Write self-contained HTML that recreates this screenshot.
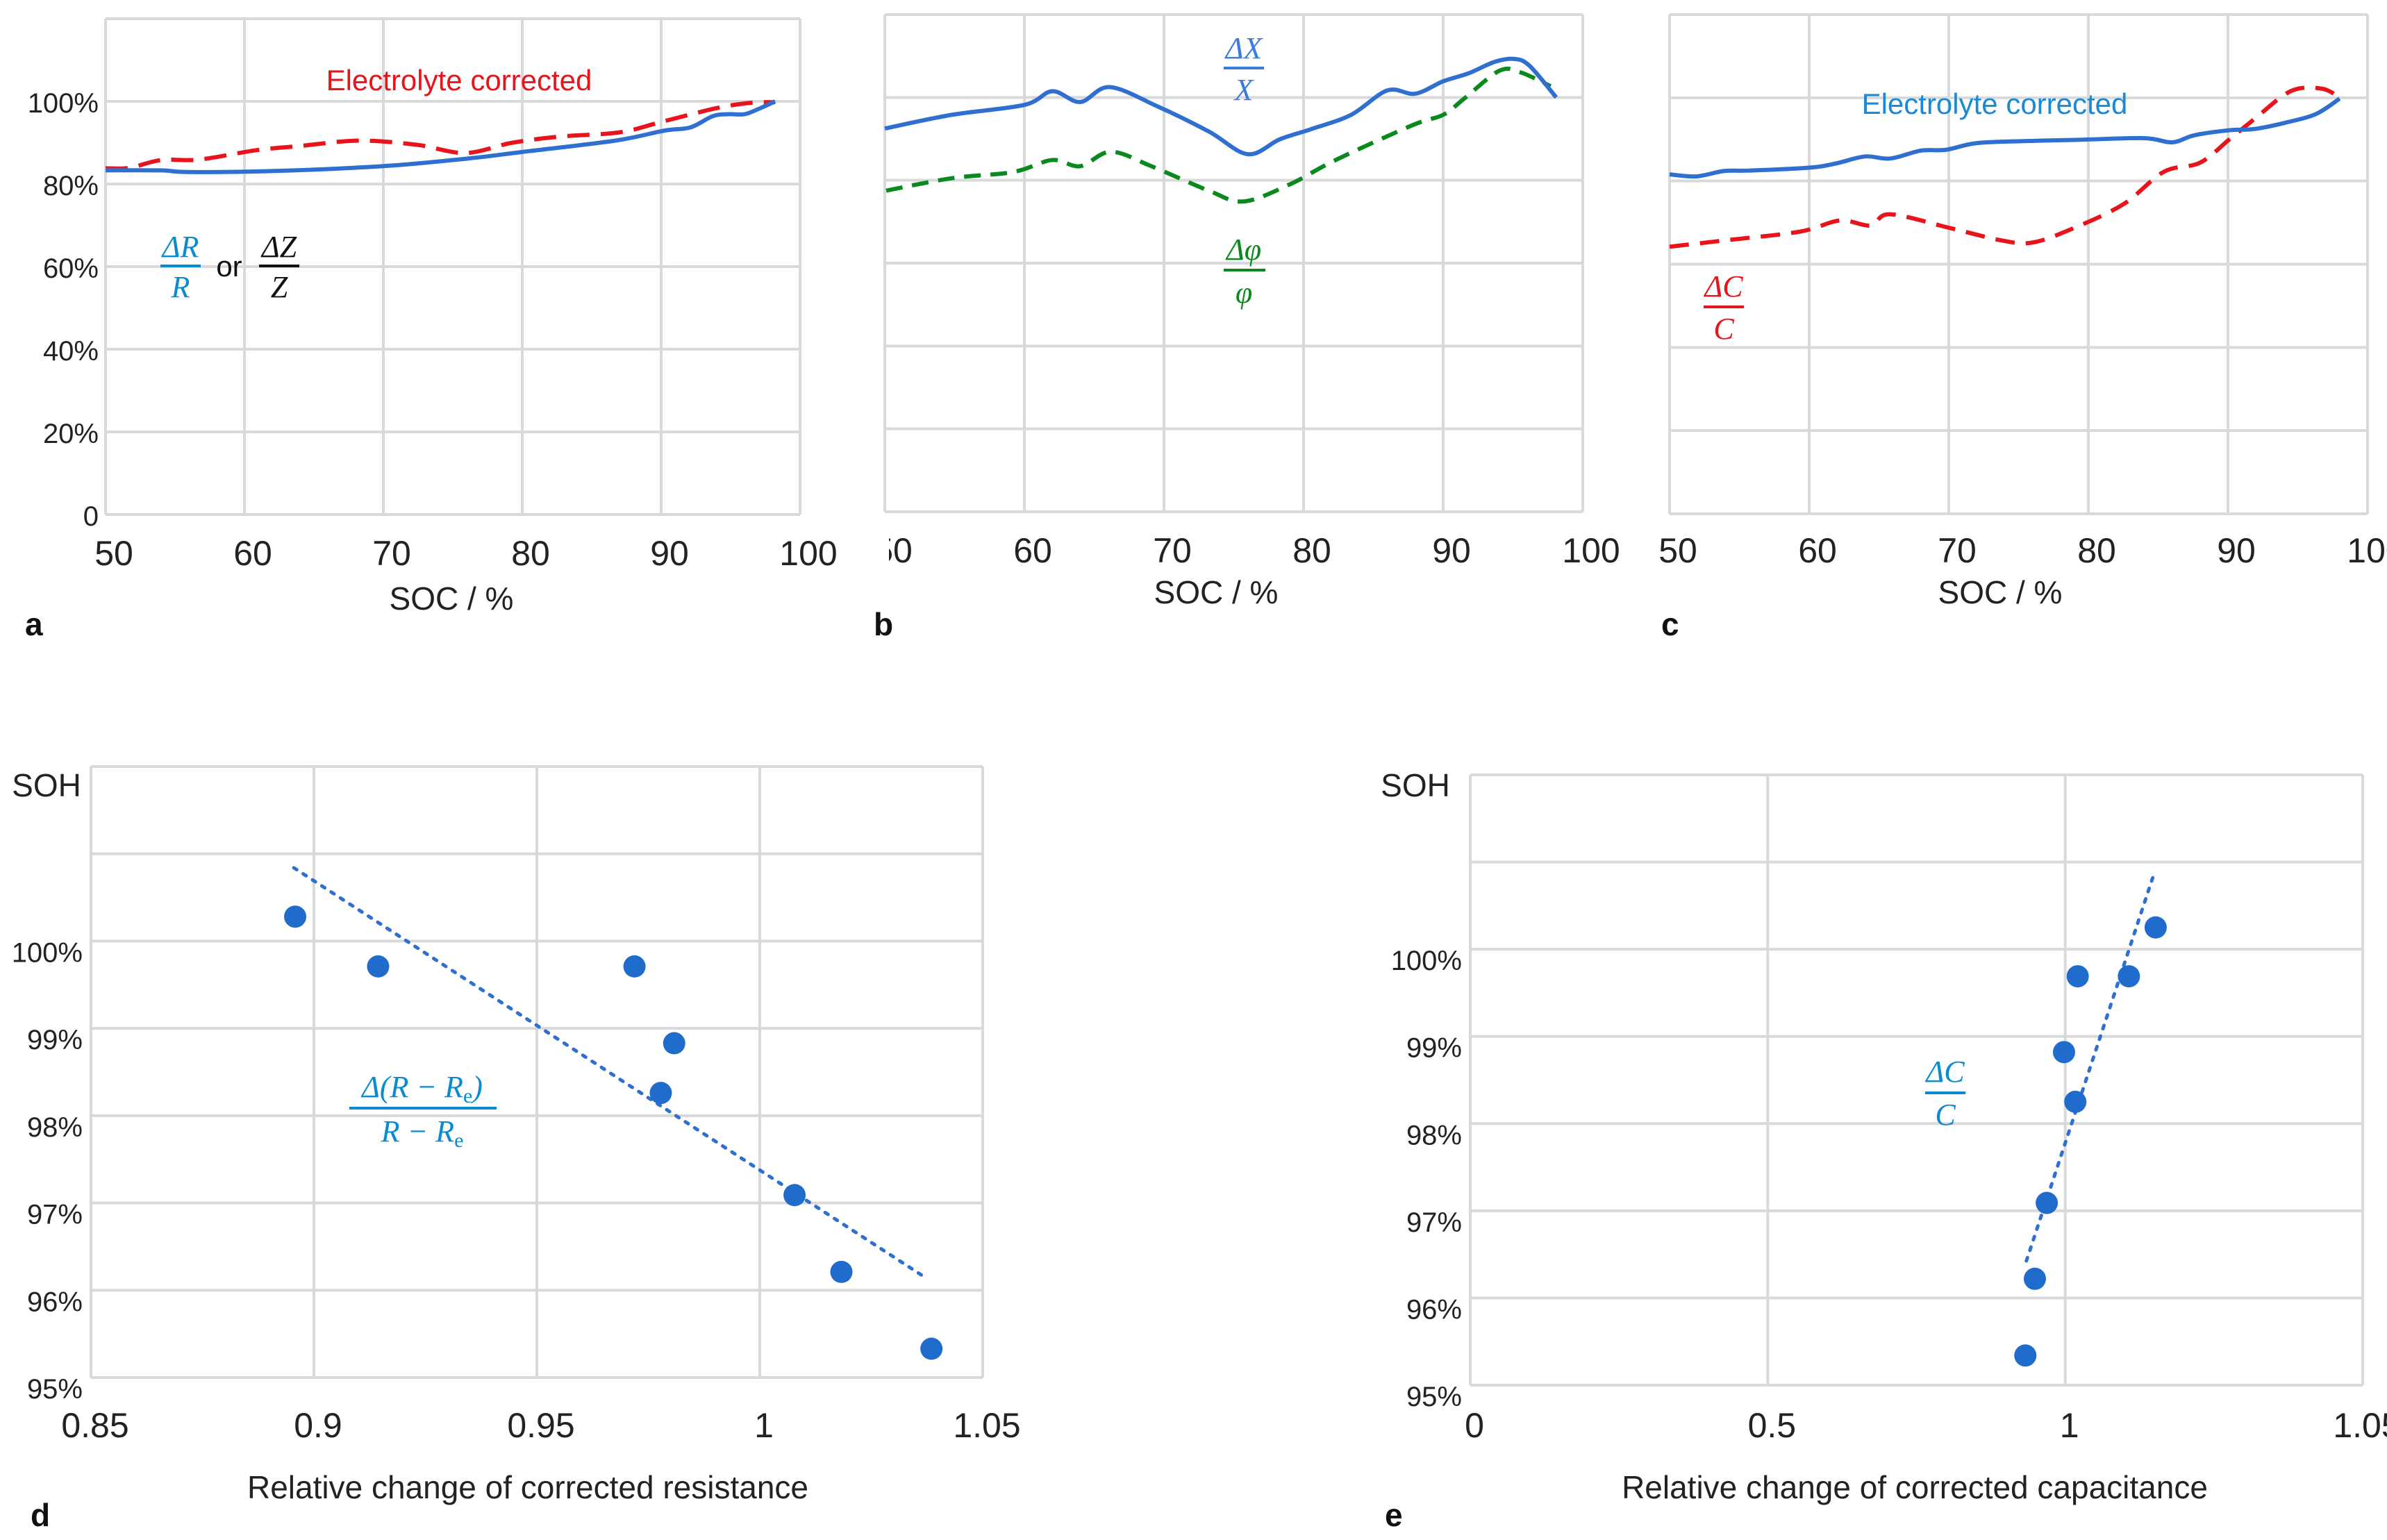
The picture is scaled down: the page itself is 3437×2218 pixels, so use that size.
<!DOCTYPE html>
<html><head><meta charset="utf-8"><style>
html,body{margin:0;padding:0;background:#fff;}
svg{display:block;}
text{font-family:"Liberation Sans",sans-serif;}
.tk{font-size:50px;fill:#222;}
.ytk{font-size:40px;fill:#222;}
.ttl{font-size:46px;fill:#222;}
.pl{font-size:46px;font-weight:bold;fill:#111;}
.mth{font-family:"Liberation Serif",serif;font-style:italic;font-size:44px;}
</style></head><body>
<svg id="fig" width="3437" height="2218" viewBox="0 0 3437 2218" xmlns="http://www.w3.org/2000/svg">
<g id="gA"></g>
<g id="gB"></g>
<g id="gC"></g>
<g id="gD"></g>
<g id="gE"></g>
</svg>
<script>
// ---- Panel a data ----
const aBlueX=[50,54,55.9,61.7,69.9,75.9,80.1,86.7,90.2,92.1,93.7,94.8,96,97.1,98.2];
const aBlueY=[83.3,83.3,82.9,83.1,84.3,86.1,87.8,90.5,92.9,93.7,96.4,96.9,96.9,98.3,100];
const aRedX=[50,51.7,54,56.7,60.9,64,68.2,72.4,75.9,79.3,82.8,87,90.1,93.9,96.3,98.2];
const aRedY=[83.8,83.9,85.8,85.9,88.2,89.2,90.5,89.5,87.5,90,91.5,92.5,95.1,98.3,99.6,99.8];
// ---- Panel b data ----
const bBlueX=[50,54.8,60,62,64,66.1,69.5,73.2,76,78.3,80.5,83.4,86,88,90,91.8,93.7,95.1,96.2,98.1];
const bBlueY=[92.5,95.8,98.2,101.5,98.9,102.5,97.9,91.8,86.3,89.9,92.3,95.8,101.7,100.9,103.9,105.8,108.6,109.3,107.6,100];
const bGreenX=[50.1,54.8,59.2,62,64,66.2,69.1,73.2,75.7,79,82.3,87.8,90,91.5,94,95.5,97.7];
const bGreenY=[77.5,80.5,82,84.9,83.4,86.9,83.4,77.5,74.9,79,84.9,93.3,95.8,99.7,106.4,106.1,102.7];
// ---- Panel c data ----
const cBlueX=[50,51.9,53.9,55.7,60,61.9,64,65.8,68,69.8,72,75.6,79.3,84,86,87.6,90.1,91.9,94.1,96.3,98];
const cBlueY=[81.6,81.1,82.4,82.5,83.2,84.2,85.9,85.4,87.3,87.5,89.1,89.6,89.9,90.3,89.3,91,92.2,92.5,94,96.1,99.8];
const cRedX=[50,53.9,59.3,62.2,64.4,65.8,70.2,73.8,76,78.9,82.5,85.4,88,90.1,91.9,94.5,96.7,98];
const cRedY=[64.2,65.7,67.8,70.5,69.3,72,68.6,65.7,65.2,68.6,74.4,82.2,84.4,90,94.9,101.6,102.2,100.1];
const socTicks=[50,60,70,80,90,100];
const pctTicks=[0,20,40,60,80,100];
const pctLabels=["0","20%","40%","60%","80%","100%"];
// ---- Panel d data ----
const dX=[0.8958,0.9144,0.9719,0.9808,0.9778,1.0078,1.0183,1.0385];
const dY=[100.28,99.71,99.71,98.83,98.26,97.09,96.21,95.33];
const dTrendX=[0.8955,1.037];
const dTrendY=[100.84,96.15];
const dXTicks=[0.85,0.9,0.95,1,1.05];
const dXLabels=["0.85","0.9","0.95","1","1.05"];
// ---- Panel e data (x axis positions on linear 0..1.5 scale, labels as printed) ----
const eX=[1.152,1.021,1.107,0.998,1.017,0.969,0.949,0.933];
const eY=[100.25,99.69,99.69,98.82,98.25,97.09,96.22,95.34];
const eTrendX=[1.147,0.934];
const eTrendY=[100.82,96.41];
const eXTicks=[0,0.5,1,1.5];
const eXLabels=["0","0.5","1","1.05"];
const sohTicks=[95,96,97,98,99,100,101,102];
const sohLabels=["95%","96%","97%","98%","99%","100%","",""];

const NS="http://www.w3.org/2000/svg";
function mk(parent,tag,attrs,txt){const e=document.createElementNS(NS,tag);for(const k in attrs)e.setAttribute(k,attrs[k]);if(txt!==undefined)e.textContent=txt;parent.appendChild(e);return e;}
function lin(d0,d1,r0,r1){return v=>r0+(v-d0)/(d1-d0)*(r1-r0);}
function smooth(pts){let d="M"+pts[0][0]+","+pts[0][1];for(let i=0;i<pts.length-1;i++){const p0=pts[i-1]||pts[i],p1=pts[i],p2=pts[i+1],p3=pts[i+2]||p2;const c1x=p1[0]+(p2[0]-p0[0])/6,c1y=p1[1]+(p2[1]-p0[1])/6,c2x=p2[0]-(p3[0]-p1[0])/6,c2y=p2[1]-(p3[1]-p1[1])/6;d+=" C"+c1x+","+c1y+" "+c2x+","+c2y+" "+p2[0]+","+p2[1];}return d;}

function linePanel(g,L,R,T,B,opts){
  const x=lin(50,100,L,R), y=lin(0,120,B,T);
  for(const t of socTicks){const l=mk(g,"line",{x1:x(t),x2:x(t),y1:T,y2:B,stroke:"#d9d9d9","stroke-width":4});
    
    }
  for(const t of [0,20,40,60,80,100,120]){const l=mk(g,"line",{x1:L,x2:R,y1:y(t),y2:y(t),stroke:"#d9d9d9","stroke-width":4});
    
    }
  if(opts.ylabels){pctTicks.forEach((t,i)=>{const e=mk(g,"text",{x:L-10,y:y(t)+16,"text-anchor":"end",class:"ytk"},pctLabels[i]);
    
    });}
  socTicks.forEach(t=>{const e=mk(g,"text",{x:x(t)+12,y:opts.tickY,"text-anchor":"middle",class:"tk"},String(t));
    
    
    if(opts.clipFirst&&t===50)e.setAttribute("clip-path","url(#clipB)");});
  opts.series.forEach(s=>{const pts=s.X.map((v,i)=>[x(v),y(s.Y[i])]);const p=mk(g,"path",{d:smooth(pts),fill:"none",stroke:s.color,"stroke-width":6,"stroke-dasharray":s.dash||"none","stroke-linecap":"butt"});
    
    });
}
const defs=mk(document.getElementById("fig"),"defs",{});
const cp=mk(defs,"clipPath",{id:"clipB",clipPathUnits:"userSpaceOnUse"});mk(cp,"rect",{x:1280,y:700,width:200,height:200});

const gA=document.getElementById("gA");
linePanel(gA,152,1152,27,741,{ylabels:true,tickY:814,series:[
  {X:aRedX,Y:aRedY,color:"#e8141c",dash:"32 16",name:"a-electrolyte-corrected-line"},
  {X:aBlueX,Y:aBlueY,color:"#2f6fd0",name:"a-resistance-line"}]});
const gB=document.getElementById("gB");
linePanel(gB,1274,2279,21,737,{ylabels:false,tickY:810,clipFirst:true,series:[
  {X:bGreenX,Y:bGreenY,color:"#0a8a1e",dash:"24 14",name:"b-phase-line"},
  {X:bBlueX,Y:bBlueY,color:"#2f6fd0",name:"b-reactance-line"}]});
const gC=document.getElementById("gC");
linePanel(gC,2404,3409,21,740,{ylabels:false,tickY:810,series:[
  {X:cRedX,Y:cRedY,color:"#e8141c",dash:"28 16",name:"c-capacitance-line"},
  {X:cBlueX,Y:cBlueY,color:"#2f6fd0",name:"c-electrolyte-corrected-line"}]});

function scatterPanel(g,L,R,T,B,xd0,xd1,xt,xl,X,Y,TX,TY){
  const x=lin(xd0,xd1,L,R), y=lin(95,102,B,T);
  xt.forEach(t=>{const l=mk(g,"line",{x1:x(t),x2:x(t),y1:T,y2:B,stroke:"#d9d9d9","stroke-width":4});
    
    });
  sohTicks.forEach((t,i)=>{const l=mk(g,"line",{x1:L,x2:R,y1:y(t),y2:y(t),stroke:"#d9d9d9","stroke-width":4});
    
    
    if(sohLabels[i]){const e=mk(g,"text",{x:L-12,y:y(t)+30,"text-anchor":"end",class:"ytk"},sohLabels[i]);
      
      }});
  xt.forEach((t,i)=>{const e=mk(g,"text",{x:x(t)+6,y:2070,"text-anchor":"middle",class:"tk"},xl[i]);
    
    });
  const tl=mk(g,"line",{x1:x(TX[0]),y1:y(TY[0]),x2:x(TX[1]),y2:y(TY[1]),stroke:"#2f6fd0","stroke-width":5,"stroke-dasharray":"5 11","stroke-linecap":"round"});
  
  
  X.forEach((v,i)=>{const c=mk(g,"circle",{cx:x(v),cy:y(Y[i]),r:16,fill:"#1f6ccc"});
    
    });
}
scatterPanel(document.getElementById("gD"),131,1415,1104,1984,0.85,1.05,dXTicks,dXLabels,dX,dY,dTrendX,dTrendY);
scatterPanel(document.getElementById("gE"),2117,3402,1116,1995,0,1.5,eXTicks,eXLabels,eX,eY,eTrendX,eTrendY);
</script>
<svg style="position:absolute;left:0;top:0" width="3437" height="2218">
<g font-family="Liberation Sans, sans-serif">
<text x="661" y="130" text-anchor="middle" font-size="42" fill="#e8141c">Electrolyte corrected</text>
<text x="650" y="878" text-anchor="middle" class="ttl">SOC / %</text>
<text x="36" y="915" class="pl">a</text>
<text x="1751" y="869" text-anchor="middle" class="ttl">SOC / %</text>
<text x="1258" y="915" class="pl">b</text>
<text x="2880" y="869" text-anchor="middle" class="ttl">SOC / %</text>
<text x="2392" y="915" class="pl">c</text>
<text x="2872" y="164" text-anchor="middle" font-size="42" fill="#1a8ad4">Electrolyte corrected</text>
<text x="67" y="1147" text-anchor="middle" class="ttl">SOH</text>
<text x="760" y="2158" text-anchor="middle" class="ttl">Relative change of corrected resistance</text>
<text x="44" y="2198" class="pl">d</text>
<text x="2038" y="1147" text-anchor="middle" class="ttl">SOH</text>
<text x="2757" y="2158" text-anchor="middle" class="ttl">Relative change of corrected capacitance</text>
<text x="1994" y="2198" class="pl">e</text>
</g>
<g>
<text x="260" y="370" text-anchor="middle" fill="#0a8ad0" class="mth">ΔR</text>
<rect x="231" y="381" width="58" height="4" fill="#0a8ad0"/>
<text x="260" y="428" text-anchor="middle" fill="#0a8ad0" class="mth">R</text>
<text x="330" y="398" text-anchor="middle" fill="#111" font-family="Liberation Serif,serif" font-size="42">or</text>
<text x="402" y="370" text-anchor="middle" fill="#111" class="mth">ΔZ</text>
<rect x="373" y="381" width="58" height="4" fill="#111"/>
<text x="402" y="428" text-anchor="middle" fill="#111" class="mth">Z</text>
</g>
<g>
<text x="1791" y="84" text-anchor="middle" fill="#3a7be0" class="mth">ΔX</text>
<rect x="1762" y="96" width="58" height="4" fill="#3a7be0"/>
<text x="1791" y="144" text-anchor="middle" fill="#3a7be0" class="mth">X</text>
</g>
<g>
<text x="1791" y="374" text-anchor="middle" fill="#0a8a1e" class="mth">Δφ</text>
<rect x="1762" y="387" width="60" height="4" fill="#0a8a1e"/>
<text x="1791" y="436" text-anchor="middle" fill="#0a8a1e" class="mth">φ</text>
</g>
<g>
<text x="2482" y="427" text-anchor="middle" fill="#e8141c" class="mth">ΔC</text>
<rect x="2453" y="440" width="58" height="4" fill="#e8141c"/>
<text x="2482" y="488" text-anchor="middle" fill="#e8141c" class="mth">C</text>
</g>
<g>
<text x="608" y="1580" text-anchor="middle" fill="#0a8ad0" class="mth">Δ(R − R<tspan font-size="30" font-style="normal" dy="8">e</tspan><tspan dy="-8">)</tspan></text>
<rect x="503" y="1594" width="212" height="4" fill="#0a8ad0"/>
<text x="608" y="1644" text-anchor="middle" fill="#0a8ad0" class="mth">R − R<tspan font-size="30" font-style="normal" dy="8">e</tspan></text>
</g>
<g>
<text x="2801" y="1558" text-anchor="middle" fill="#0a8ad0" class="mth">ΔC</text>
<rect x="2772" y="1572" width="58" height="4" fill="#0a8ad0"/>
<text x="2801" y="1620" text-anchor="middle" fill="#0a8ad0" class="mth">C</text>
</g>
</svg>
</body></html>
